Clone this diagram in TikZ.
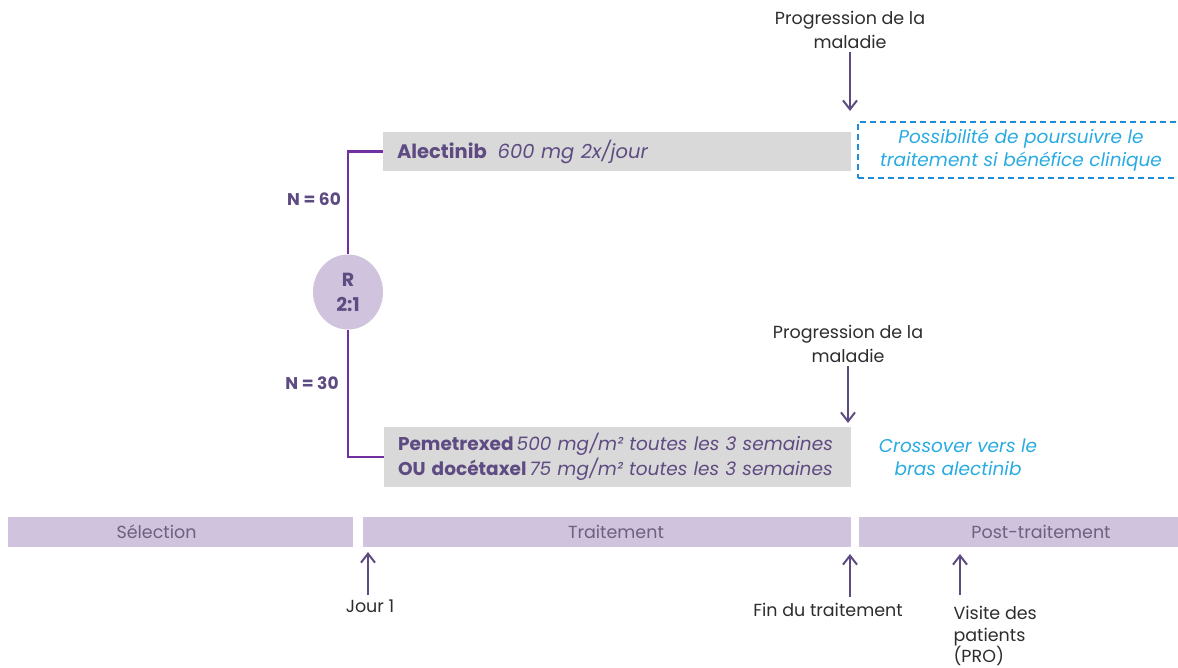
\documentclass[tikz,border=0pt]{standalone}
\usepackage{fontspec}
\setmainfont{Poppins}
\usetikzlibrary{positioning,arrows.meta,calc,shapes.geometric}
\definecolor{deeppurple}{RGB}{94,75,130}
\definecolor{linepurple}{RGB}{112,48,160}
\definecolor{lavender}{RGB}{207,195,221}
\definecolor{boxgray}{RGB}{217,217,217}
\definecolor{skyblue}{RGB}{41,171,226}
\definecolor{dashblue}{RGB}{30,140,215}
\definecolor{phasetext}{RGB}{110,96,128}
\definecolor{notegray}{RGB}{45,45,45}
\tikzset{
    arm/.style={fill=boxgray, inner xsep=14pt, inner ysep=0pt, align=left,
        text=deeppurple},
    phase/.style n args={2}{fill=lavender, minimum height=30pt, inner sep=0pt,
        label={[text=phasetext,xshift=#1,font=\fontsize{17.5}{20}\selectfont]center:#2}},
    event/.style={->, draw=deeppurple, line width=2pt},
    branch/.style={draw=linepurple, line width=2.5pt},
    note/.style={text=notegray, align=center, font=\fontsize{17.5}{24}\selectfont},
    cross/.style={text=skyblue, align=center, font=\fontsize{18.5}{23}\selectfont\itshape},
    count/.style={text=deeppurple, font=\fontsize{17}{20}\selectfont\bfseries}
}

\begin{document}
\begin{tikzpicture}[x=1pt,y=-1pt,>={Straight Barb[length=9pt,width=14pt,line width=2pt]}]
	\useasboundingbox (0,0) rectangle (1178,667);
	\node[arm,minimum width=468pt,minimum height=39pt,text width=440pt,
		font=\fontsize{19.5}{25}\selectfont] (alec) at (617,151.5)
		{\textbf{Alectinib}\hspace{11pt}\textit{600 mg 2x/jour}};
	\node[arm,minimum width=467pt,minimum height=60pt,text width=439pt,
		font=\fontsize{18.5}{25}\selectfont] (peme) at (617.5,457)
		{\textbf{Pemetrexed}\,\textit{500 mg/m² toutes les 3 semaines}\\
		 \textbf{OU docétaxel}\,\textit{75 mg/m² toutes les 3 semaines}};
	\node[ellipse,fill=lavender,minimum width=70pt,minimum height=75pt,inner sep=0pt,
		align=center,text=deeppurple,font=\fontsize{19}{25}\selectfont\bfseries] (R) at (348,292) {R\\2:1};
	\node[count] (n60) at (314,199) {N = 60};
	\node[count] (n30) at (312,383) {N = 30};
	\draw[branch] (alec.west) -| (R.north);
	\draw[branch] (R.south) |- (peme.west);
	\node[draw=dashblue,dashed,line width=1.6pt,dash pattern=on 6pt off 4pt,
		minimum width=326pt,minimum height=56pt,cross] (keep) at (1021,150)
		{Possibilité de poursuivre le\\traitement si bénéfice clinique};
	\node[cross] (swap) at (958,457) {Crossover vers le\\bras alectinib};
	\node[note] (prog1) at (850,30) {Progression de la\\maladie};
	\node[note] (prog2) at (848,344) {Progression de la\\maladie};
	\coordinate (p1) at (850,111);
	\coordinate (p2) at (848,423);
	\draw[event] (prog1.south) -- (p1);
	\draw[event] (prog2.south) -- (p2);
	\node[phase={-24pt}{Sélection},minimum width=345pt] (sel) at (180.5,532) {};
	\node[phase={9pt}{Traitement},minimum width=488pt] (trt) at (607,532) {};
	\node[phase={0pt}{Post-traitement},minimum width=364pt] (post) at (1041,532) {};
	\node[note] (jour1) at (370,606) {Jour 1};
	\node[note] (fin) at (828,610) {Fin du traitement};
	\node[note,align=left,anchor=north west,font=\fontsize{17.5}{21.5}\selectfont] (visite) at (950,603) {Visite des\\patients\\(PRO)};
	\coordinate (j1) at (368,552);
	\coordinate (f1) at (850,554);
	\coordinate (v1) at (960,554);
	\draw[event] (j1 |- 0,595) -- (j1);
	\draw[event] (f1 |- 0,597) -- (f1);
	\draw[event] (v1 |- 0,595) -- (v1);
\end{tikzpicture}
\end{document}
